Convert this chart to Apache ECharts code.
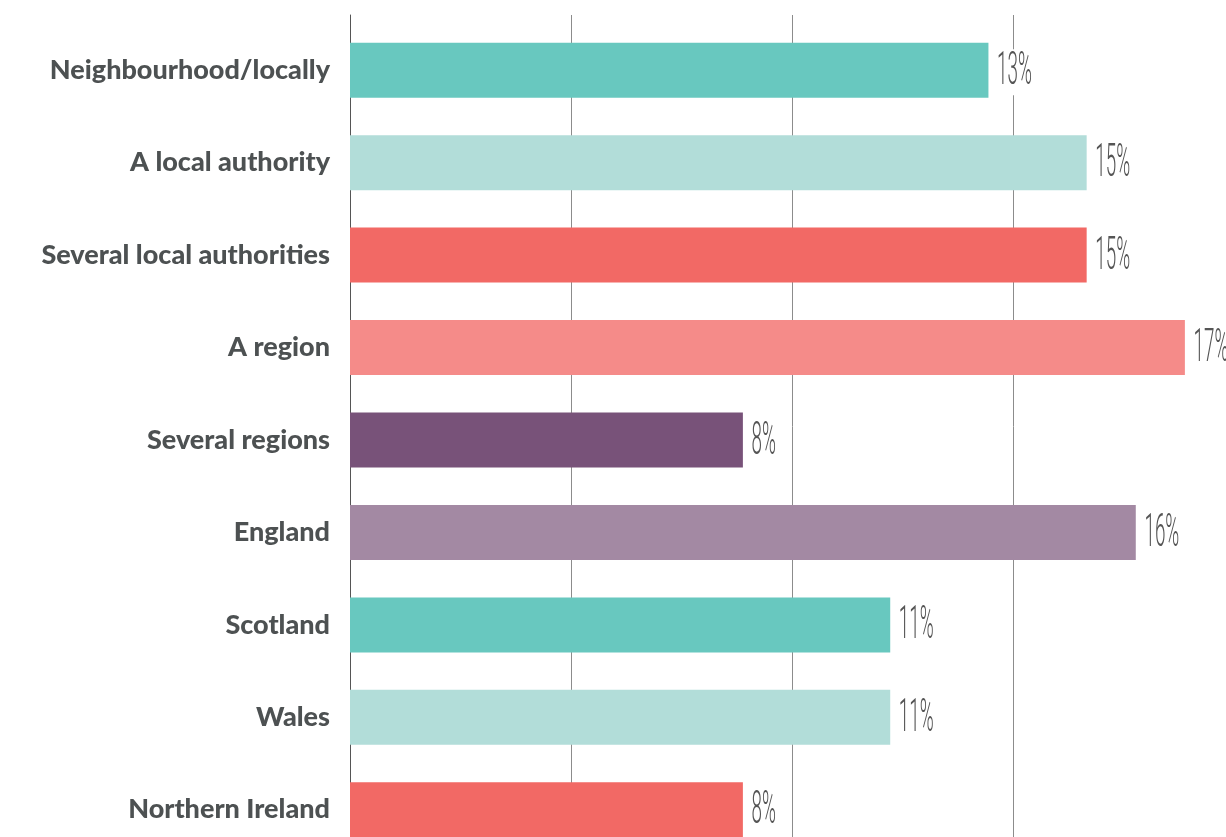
<!DOCTYPE html>
<html>
<head>
<meta charset="utf-8">
<title>Geographic reach</title>
<script src="https://cdn.jsdelivr.net/npm/echarts@6/dist/echarts.min.js"></script>
<style>
  html, body { margin: 0; padding: 0; background: #fff; }
  #chart { width: 1226px; height: 837px; }
</style>
</head>
<body>
<div id="chart"></div>
<script>
// data (percent of respondents)
var categories = ['Neighbourhood/locally', 'A local authority', 'Several local authorities', 'A region',
  'Several regions', 'England', 'Scotland', 'Wales', 'Northern Ireland'];
var values = [13, 15, 15, 17, 8, 16, 11, 11, 8];
var barColors = ['#68c8bf', '#b2ddd9', '#f26965', '#f58b89', '#785279', '#a389a3', '#68c8bf', '#b2ddd9', '#f26965'];
var axisMax = 18;
var axisStep = 4.5;

var chart = echarts.init(document.getElementById('chart'));

var barData = values.map(function (v, i) {
  return { value: v, itemStyle: { color: barColors[i] } };
});

var option = {
  animation: false,
  grid: [
    // bars (runs past the bottom and right edge of the picture)
    { left: 350, top: 24, width: 884, height: 832, containLabel: false, outerBoundsMode: 'none' },
    // grid lines only, they start a bit higher than the bars
    { left: 350, top: 15, width: 884, height: 841, containLabel: false, outerBoundsMode: 'none' }
  ],
  xAxis: [
    { gridIndex: 0, type: 'value', min: 0, max: axisMax, interval: axisStep,
      axisLine: { show: false }, axisTick: { show: false }, axisLabel: { show: false }, splitLine: { show: false } },
    { gridIndex: 1, type: 'value', min: 0, max: axisMax, interval: axisStep,
      axisLine: { show: false }, axisTick: { show: false }, axisLabel: { show: false },
      splitLine: { show: true, lineStyle: { color: '#8c8c8c', width: 1 } } }
  ],
  yAxis: [
    { gridIndex: 0, type: 'category', data: categories, inverse: true,
      axisLine: { show: false }, axisTick: { show: false },
      axisLabel: { margin: 20, color: '#4d5152', fontFamily: 'Lato', fontWeight: 900, fontSize: 27 } },
    { gridIndex: 1, type: 'value', min: 0, max: 1,
      axisLine: { show: true, lineStyle: { color: '#555', width: 1 } },
      axisTick: { show: false }, axisLabel: { show: false }, splitLine: { show: false } }
  ],
  series: [
    {
      type: 'bar',
      xAxisIndex: 0, yAxisIndex: 0,
      data: barData,
      barWidth: 55,
      z: 3
    },
    {
      // value labels: tall narrow figures beside each bar
      type: 'custom',
      xAxisIndex: 0, yAxisIndex: 0,
      data: values.map(function (v, i) { return [v, i]; }),
      z: 4,
      renderItem: function (params, api) {
        var pt = api.coord([api.value(0), api.value(1)]);
        return {
          type: 'text',
          x: pt[0] + 7,
          y: pt[1] + 2,
          scaleX: 0.41,
          style: {
            text: api.value(0) + '%',
            font: '300 46px Roboto, sans-serif',
            fill: '#555',
            align: 'left',
            verticalAlign: 'middle',
            backgroundColor: '#fff',
            padding: [0, 4]
          }
        };
      }
    }
  ]
};

chart.setOption(option);
</script>
</body>
</html>
